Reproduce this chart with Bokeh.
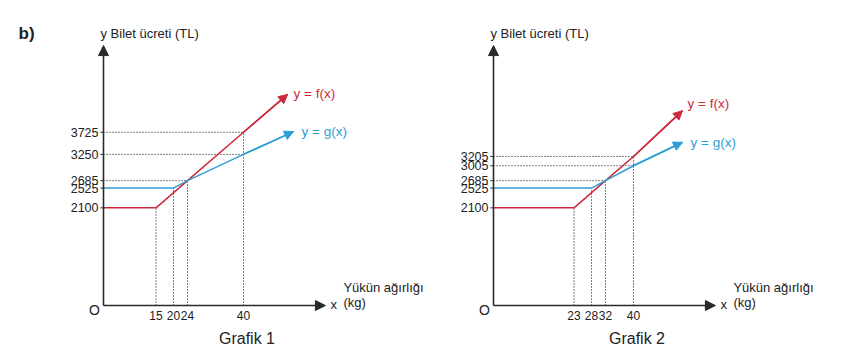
from bokeh.plotting import figure
from bokeh.models import Range1d, Arrow, NormalHead
from bokeh.core.properties import value
from bokeh.embed import file_html
from bokeh.resources import INLINE

# ---------------- data ----------------
# Grafik 1
g1_f_x = [0, 15, 24, 40, 52.6]
g1_f_y = [2100, 2100, 2685, 3725, 4540]
g1_g_x = [0, 20, 24, 40, 54.3]
g1_g_y = [2525, 2525, 2685, 3250, 3740]
g1_yticks = [2100, 2525, 2685, 3250, 3725]
g1_xticks = [15, 20, 24, 40]
g1_xtick_top = [2100, 2525, 2685, 3725]
g1_hguide_y = [3725, 3250, 2685]
g1_hguide_x = [40, 40, 24]

# Grafik 2
g2_f_x = [0, 23, 32, 40, 54]
g2_f_y = [2100, 2100, 2685, 3205, 4190]
g2_g_x = [0, 28, 32, 40, 54]
g2_g_y = [2525, 2525, 2685, 3005, 3510]
g2_yticks = [2100, 2525, 2685, 3005, 3205]
g2_xticks = [23, 28, 32, 40]
g2_xtick_top = [2100, 2525, 2685, 3205]
g2_hguide_y = [3205, 3005, 2685]
g2_hguide_x = [40, 40, 32]

axis_x_end = 63.4
axis_y_end = 5590

titles = ["Grafik 1", "Grafik 2"]
y_title = "y Bilet ücreti (TL)"
x_title = "Yükün ağırlığı"
x_unit = "(kg)"

RED = "#cc2a3c"
BLUE = "#2d9fd5"
AX = "#2a2a2a"
FONT = value("Liberation Sans")

W, H = 827, 347
XS = 3.5      # px per kg
YS = 0.0465   # px per TL
ox1, ox2, oy = 103, 493, 42   # frame pixel positions of the two origins (oy from bottom)

p = figure(width=W, height=H, output_backend="svg", toolbar_location=None,
           x_range=Range1d(-ox1 / XS, (W - ox1) / XS),
           y_range=Range1d(-oy / YS, (H - oy) / YS),
           min_border=0, outline_line_color=None)
p.extra_x_ranges = {"g2": Range1d(-ox2 / XS, (W - ox2) / XS)}
p.xaxis.visible = False
p.yaxis.visible = False
p.grid.visible = False
p.background_fill_color = "white"
p.border_fill_color = "white"

def panel(xr, fx, fy, gx, gy, yticks, xticks, xtop, hy, hx, title, lab_off, first):
    kw = {} if xr == "default" else {"x_range_name": xr}
    # dotted guides
    p.segment(x0=[0] * len(hy), y0=hy, x1=hx, y1=hy, line_color="black",
              line_width=1, line_dash="1 2", **kw)
    p.segment(x0=xticks, y0=[0] * len(xticks), x1=xticks, y1=xtop, line_color="black",
              line_width=1, line_dash="1 2", **kw)
    # axes
    p.add_layout(Arrow(x_start=0, y_start=0, x_end=axis_x_end, y_end=0,
                       line_color=AX, line_width=1.6,
                       end=NormalHead(size=10, fill_color=AX, line_color=AX), **kw))
    p.add_layout(Arrow(x_start=0, y_start=0, x_end=0, y_end=axis_y_end,
                       line_color=AX, line_width=1.6,
                       end=NormalHead(size=10, fill_color=AX, line_color=AX), **kw))
    # tick dashes
    p.segment(x0=[-0.9] * len(yticks), y0=yticks, x1=[0] * len(yticks), y1=yticks,
              line_color=AX, line_width=1, **kw)
    # series
    for xs, ys, col, lab, off in ((fx, fy, RED, "y = f(x)", lab_off[0]),
                                  (gx, gy, BLUE, "y = g(x)", lab_off[1])):
        p.line(xs, ys, line_color=col, line_width=1.5, **kw)
        p.add_layout(Arrow(x_start=xs[-2], y_start=ys[-2], x_end=xs[-1], y_end=ys[-1],
                           line_color=col, line_width=1.5,
                           end=NormalHead(size=9, fill_color=col, line_color=col), **kw))
        p.text(x=[xs[-1]], y=[ys[-1]], text=[lab], x_offset=off[0], y_offset=off[1],
               text_color=col, text_font=FONT, text_font_size="13.5px",
               text_align="left", text_baseline="middle", **kw)
    # tick labels
    p.text(x=[0] * len(yticks), y=yticks, text=[str(v) for v in yticks], x_offset=-5,
           text_font=FONT, text_font_size="12.5px", text_color="#222",
           text_align="right", text_baseline="middle", **kw)
    p.text(x=xticks, y=[0] * len(xticks), text=[str(v) for v in xticks], y_offset=10,
           text_font=FONT, text_font_size="12px", text_color="#222",
           text_align="center", text_baseline="middle", **kw)
    # axis titles
    p.text(x=[0], y=[axis_y_end], text=[y_title], x_offset=-3, y_offset=-12,
           text_font=FONT, text_font_size="13px", text_color="#222",
           text_align="left", text_baseline="middle", **kw)
    p.text(x=[0], y=[0], text=["O"], x_offset=-9, y_offset=4,
           text_font=FONT, text_font_size="14px", text_color="#222",
           text_align="center", text_baseline="middle", **kw)
    p.text(x=[axis_x_end], y=[0], text=["x"], x_offset=5, y_offset=-1,
           text_font=FONT, text_font_size="13px", text_color="#222",
           text_align="left", text_baseline="middle", **kw)
    p.text(x=[axis_x_end] * 2, y=[0, 0], text=[x_title, x_unit], x_offset=18,
           y_offset=[-18, -3], text_font=FONT, text_font_size="13px", text_color="#222",
           text_align="left", text_baseline="middle", **kw)
    p.text(x=[41], y=[0], text=[title], y_offset=33,
           text_font=FONT, text_font_size="16px", text_color="#222",
           text_align="center", text_baseline="middle", **kw)
    if first:
        p.text(x=[0], y=[axis_y_end], text=["b)"], x_offset=-85, y_offset=-12,
               text_font=FONT, text_font_size="17px", text_font_style="bold",
               text_color="#222", text_align="left", text_baseline="middle", **kw)

panel("default", g1_f_x, g1_f_y, g1_g_x, g1_g_y, g1_yticks, g1_xticks, g1_xtick_top,
      g1_hguide_y, g1_hguide_x, titles[0], [(6, -1), (8, 0)], True)
panel("g2", g2_f_x, g2_f_y, g2_g_x, g2_g_y, g2_yticks, g2_xticks, g2_xtick_top,
      g2_hguide_y, g2_hguide_x, titles[1], [(5, -7), (8, 0)], False)

open("out.html", "w").write(file_html(p, INLINE))
